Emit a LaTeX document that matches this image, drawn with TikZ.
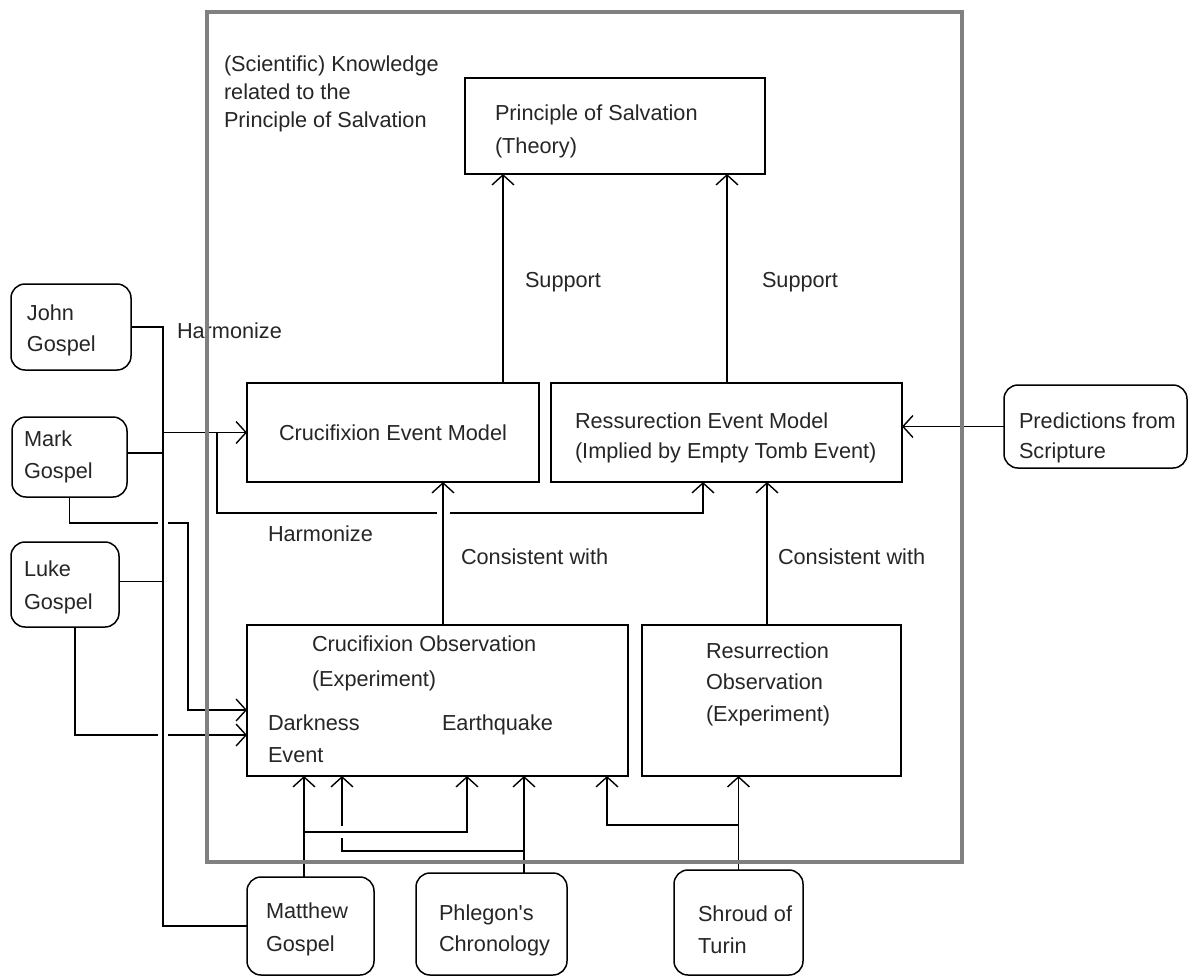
\documentclass[tikz,border=0pt]{standalone}
\usepackage{fontspec}
\setmainfont{Liberation Sans}
\usetikzlibrary{arrows.meta}
% multi-line text block whose reference point is the first baseline
\newcommand{\txtblock}[2]{{\fontsize{21.7pt}{#1}\selectfont\begin{tabular}[t]{@{}l@{}}#2\end{tabular}}}
\begin{document}
\begin{tikzpicture}[x=1pt,y=-1pt,
  box/.style={draw, line width=1.5pt, anchor=north west, inner sep=0pt, outer sep=0pt,
    font=\fontsize{21.7pt}{26pt}\selectfont, text=black!85},
  source/.style={box, rounded corners=14pt},
  txt/.style={anchor=base west, inner sep=0pt, outer sep=0pt,
    font=\fontsize{21.7pt}{26pt}\selectfont, text=black!85},
  conn/.style={line width=1.4pt},
  arr/.style={conn, -{Straight Barb[length=10pt,width=22pt]}},
]
\useasboundingbox (0,0) rectangle (1192,978);
\fill[white] (0,0) rectangle (1192,978);

% ---- boxes ----
\node[box, minimum width=300pt, minimum height=96pt] (principle) at (465,78) {};
\node[box, minimum width=292pt, minimum height=99pt] (cem) at (247,383) {Crucifixion Event Model};
\node[box, minimum width=351pt, minimum height=99pt] (rem) at (551,383) {};
\node[box, minimum width=381pt, minimum height=151pt] (cobs) at (247,625) {};
\node[box, minimum width=259pt, minimum height=151pt] (robs) at (642,625) {};

\node[source, minimum width=120pt, minimum height=86pt] (john) at (11,284) {};
\node[source, minimum width=115pt, minimum height=80pt] (mark) at (12,417) {};
\node[source, minimum width=108pt, minimum height=85pt] (luke) at (11,542) {};
\node[source, minimum width=127pt, minimum height=98pt] (matthew) at (247,877) {};
\node[source, minimum width=151pt, minimum height=102pt] (phlegon) at (416,873) {};
\node[source, minimum width=129pt, minimum height=105pt] (shroud) at (674,870) {};
\node[source, minimum width=183pt, minimum height=83pt] (scripture) at (1004,385) {};

% ---- helper coordinates ----
\coordinate (bus) at (163,0);
\coordinate (hl) at (217,513);
\coordinate (hr) at (703,513);
\coordinate (cw) at (443,0);
\coordinate (rw) at (767,0);
\coordinate (s1) at (503,0);
\coordinate (s2) at (727,0);
\coordinate (mk) at (188,710);
\coordinate (mkh) at (0,523);
\coordinate (lk) at (0,735);
\coordinate (mt) at (304,0);
\coordinate (eq) at (467,832);
\coordinate (pt) at (524,0);
\coordinate (dk) at (342,851);
\coordinate (gap) at (342,832);
\coordinate (sr) at (607,825);

% ---- gospel bus ----
\draw[conn] (john.east) -- (john.east -| bus) |- (matthew.west);
\draw[conn] ([yshift=4pt]mark.east) -- ([yshift=4pt]mark.east -| bus);
\draw[conn] ([yshift=3pt]luke.east) -- ([yshift=3pt]luke.east -| bus);
\draw[arr] (cem.west -| bus) -- (cem.west);

% ---- harmonize link between the event models ----
\draw[conn] (hl |- cem.west) -- (hl) -- ([xshift=-6.5pt]hl -| cw);
\draw[arr] ([xshift=6.5pt]hl -| cw) -- (hr) -- (hr |- rem.south);

% ---- consistency and support ----
\draw[arr] (cobs.north -| cw) -- (cem.south -| cw);
\draw[arr] (robs.north -| rw) -- (rem.south -| rw);
\draw[arr] (cem.north -| s1) -- (principle.south -| s1);
\draw[arr] (rem.north -| s2) -- (principle.south -| s2);
\draw[arr] (scripture.west) -- (scripture.west -| rem.east);

% ---- Mark and Luke into the observation ----
\draw[conn] (mark.south) |- ([xshift=-5pt]bus |- mkh);
\draw[arr] ([xshift=5pt]bus |- mkh) -| (mk) -- (mk -| cobs.west);
\draw[conn] ([xshift=10pt]luke.south) |- ([xshift=-5pt]bus |- lk);
\draw[arr] ([xshift=5pt]bus |- lk) -- (lk -| cobs.west);

% ---- sources below ----
\draw[arr] (matthew.north -| mt) -- (cobs.south -| mt);
\draw[arr] (mt |- eq) -| (eq |- cobs.south);
\draw[arr] (phlegon.north -| pt) -- (cobs.south -| pt);
\draw[conn] (pt |- dk) -- (dk) -- ([yshift=-6pt]gap);
\draw[arr] ([yshift=6pt]gap) -- (gap |- cobs.south);
\draw[arr] (shroud.north) -- (shroud.north |- robs.south);
\draw[arr] (shroud.north |- sr) -| (sr |- cobs.south);

% ---- texts ----
\node[txt] (knowledge) at (224,71) {\txtblock{28pt}{(Scientific) Knowledge\\related to the\\Principle of Salvation}};
\node[txt] (t-principle) at (495,120) {\txtblock{33pt}{Principle of Salvation\\(Theory)}};
\node[txt] (support1) at (525,287) {Support};
\node[txt] (support2) at (762,287) {Support};
\node[txt] (harm1) at (177,338) {Harmonize};
\node[txt] (harm2) at (268,541) {Harmonize};
\node[txt] (cons1) at (461,564) {Consistent with};
\node[txt] (cons2) at (778,564) {Consistent with};
\node[txt] (t-rem) at (575,428) {\txtblock{30pt}{Ressurection Event Model\\(Implied by Empty Tomb Event)}};
\node[txt] (t-scripture) at (1019,428) {\txtblock{30pt}{Predictions from\\Scripture}};
\node[txt] (t-john) at (27,320) {\txtblock{31pt}{John\\Gospel}};
\node[txt] (t-mark) at (24,446) {\txtblock{32pt}{Mark\\Gospel}};
\node[txt] (t-luke) at (24,576) {\txtblock{33pt}{Luke\\Gospel}};
\node[txt] (t-cobs) at (312,651) {\txtblock{35pt}{Crucifixion Observation\\(Experiment)}};
\node[txt] (t-dark) at (268,730) {\txtblock{32pt}{Darkness\\Event}};
\node[txt] (t-quake) at (442,730) {Earthquake};
\node[txt] (t-robs) at (706,658) {\txtblock{31.5pt}{Resurrection\\Observation\\(Experiment)}};
\node[txt] (t-matthew) at (266,918) {\txtblock{33pt}{Matthew\\Gospel}};
\node[txt] (t-phlegon) at (439,920) {\txtblock{31pt}{Phlegon\textquotesingle s\\Chronology}};
\node[txt] (t-shroud) at (698,921) {\txtblock{32pt}{Shroud of\\Turin}};

% ---- outer frame, drawn on top ----
\node[draw=gray, line width=4pt, anchor=north west, inner sep=0pt, outer sep=0pt,
  minimum width=755pt, minimum height=850pt] (frame) at (207,12) {};
\end{tikzpicture}
\end{document}
